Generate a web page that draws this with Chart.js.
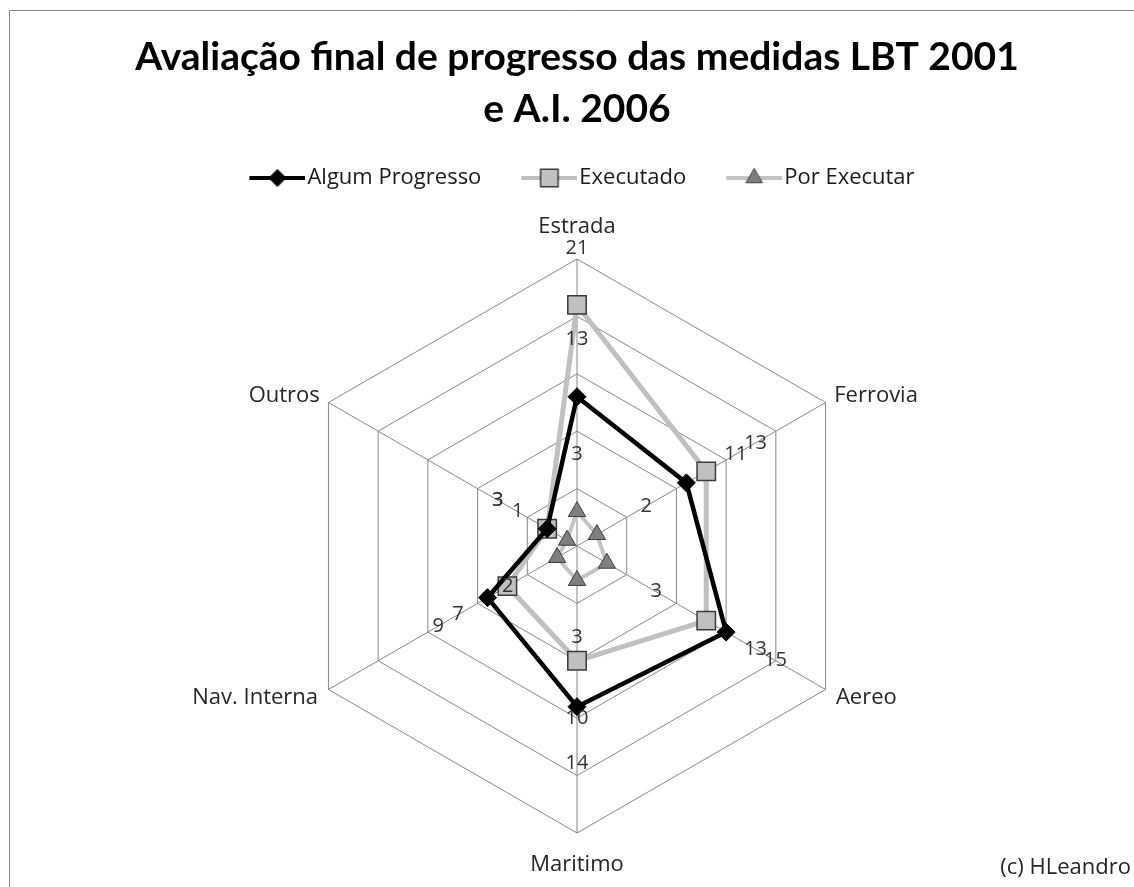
<!DOCTYPE html>
<html><head><meta charset="utf-8">
<script src="https://cdn.jsdelivr.net/npm/chart.js@4"></script>
<style>html,body{margin:0;padding:0;background:#fff;overflow:hidden}#wrap{position:relative;width:1134px;height:887px}</style>
</head><body><div id="wrap"><canvas id="c"></canvas></div>
<script>
// ---- data ----
const categories = ['Estrada', 'Ferrovia', 'Aereo', 'Maritimo', 'Nav. Interna', 'Outros'];
const seriesNames = ['Algum Progresso', 'Executado', 'Por Executar'];
const algumProgresso = [13, 11, 15, 14, 9, 3];
const executado = [21, 13, 13, 10, 7, 3];
const porExecutar = [3, 2, 3, 3, 2, 1];
const axisMin = 0, axisMax = 25, axisStep = 5;
const titleLines = ['Avaliação final de progresso das medidas LBT 2001', 'e A.I. 2006'];
const creditText = '(c) HLeandro';

// ---- styles ----
const labelPads = [30, 10, 12, 30, 12, 10];
const seriesStyles = [
  {line: '#000000', width: 4.5, style: 'rectRot', radius: 9, bg: '#000000', border: '#000000', bw: 1},
  {line: '#c0c0c0', width: 5, style: 'rect', radius: 13, bg: '#c0c0c0', border: '#3a3a3a', bw: 1.5},
  {line: '#c4c4c4', width: 4, style: 'triangle', radius: 10, bg: '#7f7f7f', border: '#404040', bw: 1}
];

function makeLegendImage(s) {
  const W = 75, H = 24;
  const cv = document.createElement('canvas');
  cv.width = W; cv.height = H;
  const g = cv.getContext('2d');
  g.strokeStyle = s.line; g.lineWidth = 4;
  g.beginPath(); g.moveTo(W - 56, H / 2); g.lineTo(W, H / 2); g.stroke();
  g.fillStyle = s.bg; g.strokeStyle = s.border; g.lineWidth = s.bw;
  Chart.helpers.drawPoint(g, {pointStyle: s.style, radius: s.radius * 0.95, borderWidth: s.bw, rotation: 0}, W - 28, H / 2);
  return cv;
}

const valueLabels = {
  id: 'valueLabels',
  afterDatasetsDraw(chart) {
    const ctx = chart.ctx, r = chart.scales.r;
    ctx.save();
    ctx.font = '20px "Open Sans"';
    ctx.fillStyle = '#333333';
    ctx.textAlign = 'center';
    ctx.textBaseline = 'middle';
    chart.data.datasets.forEach((ds) => {
      ds.data.forEach((v, j) => {
        const p = r.getPointPosition(j, r.getDistanceFromCenterForValue(v) + 57);
        ctx.fillText(String(v), p.x, p.y);
      });
    });
    ctx.restore();
  }
};

const frameAndCredit = {
  id: 'frameAndCredit',
  beforeDraw(chart) {
    const ctx = chart.ctx;
    ctx.save();
    ctx.strokeStyle = '#878787'; ctx.lineWidth = 1;
    ctx.beginPath(); ctx.moveTo(9.5, 900); ctx.lineTo(9.5, 10.5); ctx.lineTo(1140, 10.5); ctx.stroke();
    ctx.restore();
  },
  afterDraw(chart) {
    const ctx = chart.ctx;
    ctx.save();
    ctx.font = '22px "Open Sans"'; ctx.fillStyle = '#262626';
    ctx.textAlign = 'right'; ctx.textBaseline = 'middle';
    ctx.fillText(creditText, 1131, 868);
    ctx.restore();
  }
};

function build() {
  const legendImages = seriesStyles.map(makeLegendImage);
  const seriesData = [algumProgresso, executado, porExecutar];
  const datasets = seriesNames.map((name, i) => {
    const s = seriesStyles[i];
    return {
      label: name, data: seriesData[i], fill: false,
      borderColor: s.line, borderWidth: s.width, backgroundColor: s.bg,
      pointStyle: s.style, pointRadius: s.radius, pointHoverRadius: s.radius,
      pointBackgroundColor: s.bg, pointBorderColor: s.border, pointBorderWidth: s.bw
    };
  });
  new Chart(document.getElementById('c'), {
    type: 'radar',
    data: {labels: categories, datasets},
    options: {
      responsive: true, maintainAspectRatio: false, animation: false,
      layout: {padding: {top: 0, bottom: 20, left: 20, right: 0}},
      elements: {line: {tension: 0}},
      scales: {
        r: {
          min: axisMin, max: axisMax,
          ticks: {display: false, stepSize: axisStep},
          grid: {color: '#878787', lineWidth: 1},
          angleLines: {color: '#878787', lineWidth: 1},
          pointLabels: {
            color: '#262626',
            font: {family: 'Open Sans', size: 22, lineHeight: '4px'},
            padding: (c) => labelPads[c.index]
          }
        }
      },
      plugins: {
        tooltip: {enabled: false},
        title: {
          display: true, text: titleLines, color: '#000000',
          font: {family: 'Lato', weight: 'bold', size: 39, lineHeight: '52px'},
          padding: {top: 31, bottom: 2}
        },
        legend: {
          display: true, position: 'top', align: 'center', weight: 1700,
          labels: {
            color: '#1a1a1a', font: {family: 'Open Sans', size: 22},
            usePointStyle: true, pointStyleWidth: 57, padding: 30,
            generateLabels(chart) {
              const items = Chart.defaults.plugins.legend.labels.generateLabels(chart);
              items.forEach((it) => { it.pointStyle = legendImages[it.datasetIndex]; it.rotation = 0; });
              return items;
            }
          }
        },
        subtitle: {
          display: true, text: '', weight: 1500,
          font: {size: 10, lineHeight: '12px'}, padding: {top: 0, bottom: 14}
        }
      }
    },
    plugins: [valueLabels, frameAndCredit]
  });
}

Promise.all([
  document.fonts.load('bold 39px Lato'),
  document.fonts.load('22px "Open Sans"')
]).catch(() => {}).finally(build);
</script>
</body></html>
